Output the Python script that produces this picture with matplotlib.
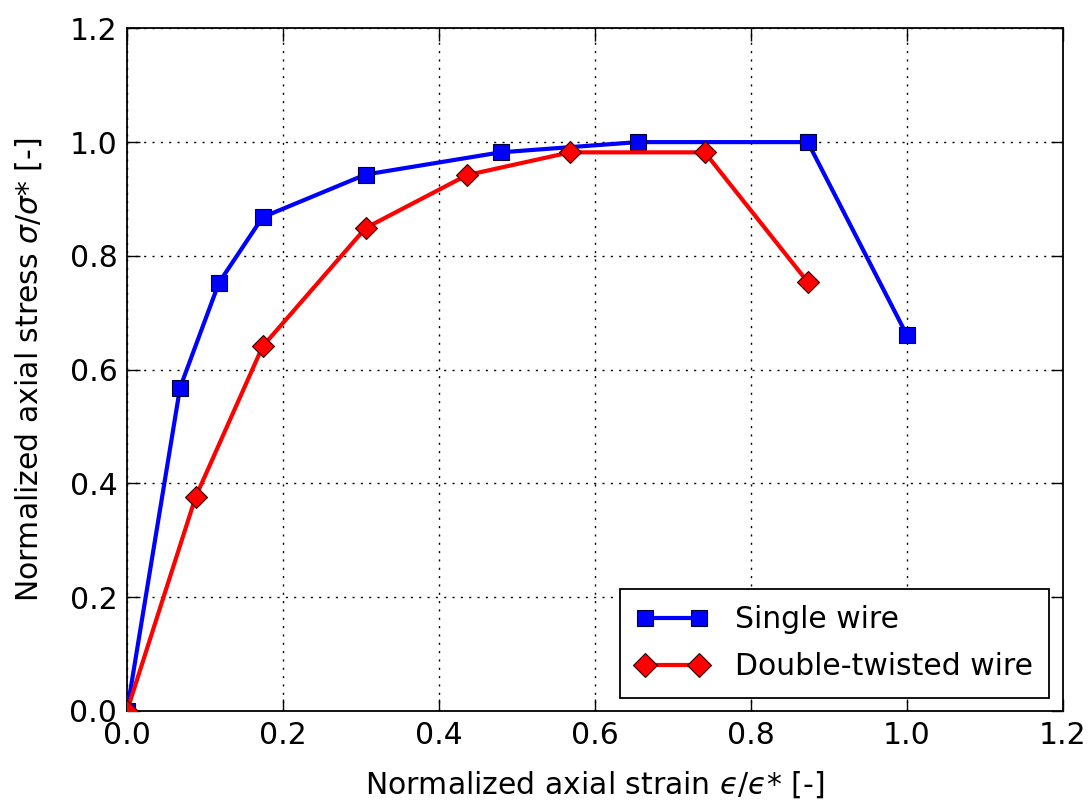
import matplotlib
matplotlib.use("Agg")
import matplotlib.pyplot as plt

single_x = [0.0, 0.068, 0.118, 0.174, 0.306, 0.479, 0.655, 0.873, 1.0]
single_y = [0.0, 0.568, 0.753, 0.868, 0.943, 0.982, 1.0, 1.0, 0.661]
double_x = [0.0, 0.088, 0.174, 0.306, 0.436, 0.568, 0.741, 0.873]
double_y = [0.0, 0.376, 0.641, 0.849, 0.942, 0.982, 0.982, 0.754]
ticks = [0.0, 0.2, 0.4, 0.6, 0.8, 1.0, 1.2]

plt.rcParams['font.family'] = ['DejaVu Sans']
fs = 21.5
fig = plt.figure(figsize=(10.9, 8.05), dpi=100)
ax = fig.add_axes([0.1165, 0.1168, 0.8585, 0.848])

ax.plot(single_x, single_y, color='#0000ff', lw=3, marker='s', ms=11,
        mfc='#0000ff', mec='#000033', mew=0.8, label='Single wire', zorder=3)
ax.plot(double_x, double_y, color='#ff0000', lw=3, marker='D', ms=11,
        mfc='#ff0000', mec='#330000', mew=0.8, label='Double-twisted wire', zorder=3)

ax.set_xlim(0, 1.2)
ax.set_ylim(0, 1.2)
ax.set_xticks(ticks)
ax.set_yticks(ticks)
ax.set_xticklabels([f"{t:.1f}" for t in ticks])
ax.set_yticklabels([f"{t:.1f}" for t in ticks])
ax.tick_params(direction='in', length=9, width=1, labelsize=fs, pad=7,
               top=True, right=True)
ax.grid(True, color='black', linestyle=(0, (1.5, 4.5)), linewidth=1)
for s in ax.spines.values():
    s.set_linewidth(1.3)

ax.set_xlabel('Normalized axial strain $\u03f5/\u03f5$* [-]', fontsize=fs, labelpad=14)
ax.set_ylabel(r'Normalized axial stress $\sigma/\sigma$* [-]', fontsize=fs, labelpad=18)

leg = ax.legend(loc='lower right', fontsize=fs, fancybox=False, framealpha=1,
                edgecolor='black', borderaxespad=0.45, handlelength=2.4,
                handletextpad=0.9, labelspacing=0.6, borderpad=0.55, numpoints=2,
                markerscale=1.1)
leg.get_frame().set_linewidth(1.3)

fig.savefig('out.png', dpi=100)
